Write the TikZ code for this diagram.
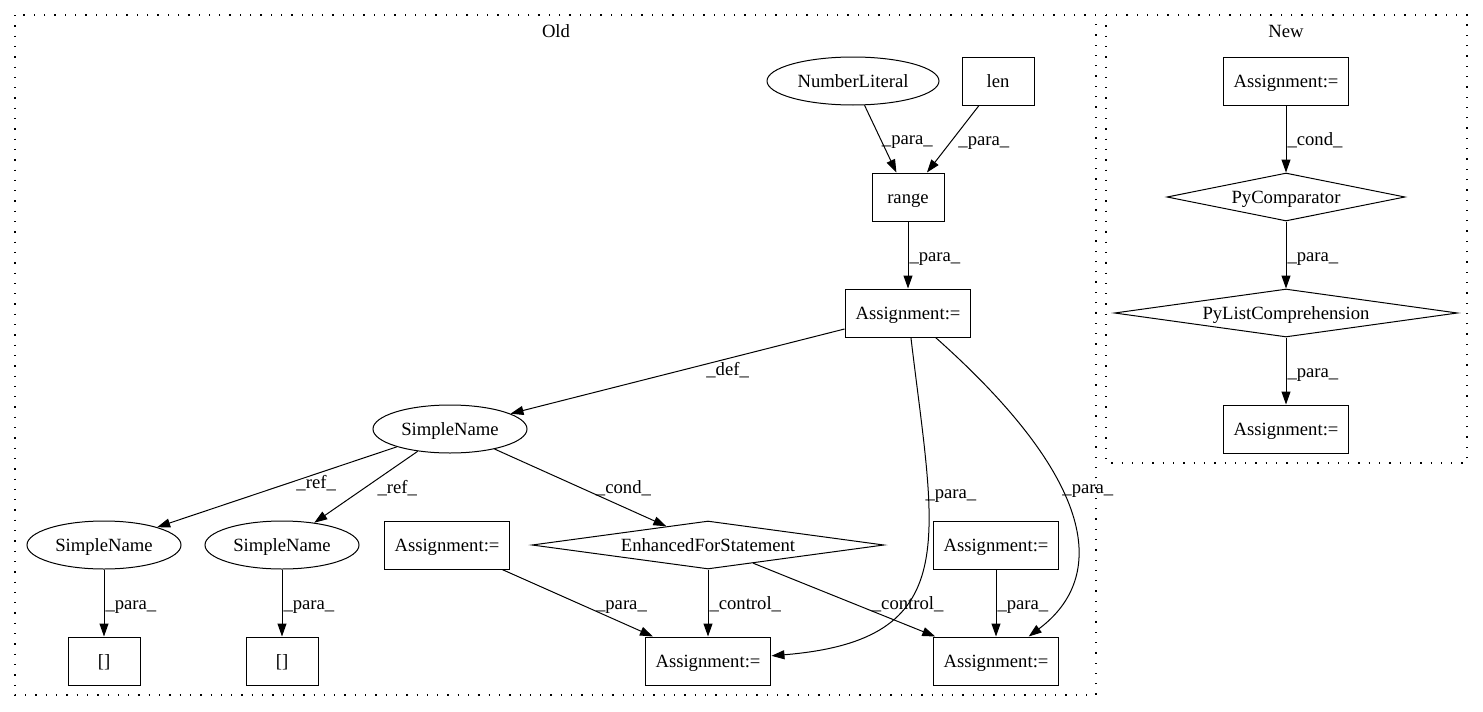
\documentclass[tikz,border=0pt]{standalone}
\usepackage{fontspec}
\setmainfont{Liberation Serif}
\usetikzlibrary{shapes.geometric,arrows.meta}
\tikzset {>={Triangle[length=13pt,width=9pt]}}

\begin{document}
\begin{tikzpicture}[x=1pt,y=-1pt,line width=1pt,
  every node/.style={font=\fontsize{18.67}{22}\selectfont,text height=13pt,text depth=1pt},
  box/.style={draw,rectangle,minimum width=72pt,minimum height=48pt,inner xsep=10.5pt},
  oval/.style={draw,ellipse,minimum height=48pt,inner sep=0pt},
  dia/.style={draw,diamond,aspect=7,minimum height=48pt,inner sep=0pt},
  lbl/.style={inner sep=1pt},
  clus/.style={line width=1.3pt,dash pattern=on 1.3pt off 9pt}]
\useasboundingbox (0,0) rectangle (1483,712);
\draw[clus] (15,15) rectangle (1096,695);
\node (oldlbl) at (556,31) {Old};
\draw[clus] (1106,15) rectangle (1467,463);
\node (newlbl) at (1286,31) {New};

\node[oval,minimum width=172pt] (numlit) at (853,81) {NumberLiteral};
\node[box] (len) at (998,81) {len};
\node[box] (range) at (908,197) {range};
\node[box] (asg) at (908,313) {Assignment:=};
\node[oval,minimum width=154pt] (sname) at (450,429) {SimpleName};
\node[oval,minimum width=154pt] (snameL) at (104,545) {SimpleName};
\node[oval,minimum width=154pt] (snameM) at (282,545) {SimpleName};
\node[box] (asgL) at (447,545) {Assignment:=};
\node[dia,minimum width=352pt] (efor) at (708,545) {EnhancedForStatement};
\node[box] (asgR) at (996,545) {Assignment:=};
\node[box] (idxL) at (104,661) {[]};
\node[box] (idxM) at (282,661) {[]};
\node[box] (asgBL) at (708,661) {Assignment:=};
\node[box] (asgBR) at (996,661) {Assignment:=};

\node[box] (nasg) at (1286,81) {Assignment:=};
\node[dia,minimum width=238pt] (pycmp) at (1286,197) {PyComparator};
\node[dia,minimum width=343pt] (pylc) at (1286,313) {PyListComprehension};
\node[box] (nasg2) at (1286,429) {Assignment:=};

\draw[->] (numlit) -- node[lbl,anchor=west] {\_para\_} (range);
\draw[->] (len) -- node[lbl,anchor=west,xshift=4pt] {\_para\_} (range);
\draw[->] (range) -- node[lbl,anchor=west] {\_para\_} (asg);
\draw[->] (asg) -- node[lbl,pos=.35,anchor=north,yshift=-2pt] {\_def\_} (sname);
\draw[->] (sname) -- node[lbl,pos=.45,anchor=west,xshift=6pt] {\_ref\_} (snameL);
\draw[->] (sname) -- node[lbl,anchor=west,xshift=10pt] {\_ref\_} (snameM);
\draw[->] (sname) -- node[lbl,anchor=west,xshift=14pt] {\_cond\_} (efor);
\draw[->] (snameL) -- node[lbl,anchor=west] {\_para\_} (idxL);
\draw[->] (snameM) -- node[lbl,anchor=west] {\_para\_} (idxM);
\draw[->] (asgL) -- node[lbl,anchor=west,xshift=17pt] {\_para\_} (asgBL);
\draw[->] (efor) -- node[lbl,anchor=west] {\_control\_} (asgBL);
\draw[->] (efor) -- node[lbl,pos=.55,anchor=west,xshift=17pt] {\_control\_} (asgBR);
\draw[->] (asgR) -- node[lbl,anchor=west] {\_para\_} (asgBR);
\draw[->] (asg) .. controls (935,540) and (965,640) .. node[lbl,pos=.3,anchor=west,xshift=-4pt] {\_para\_} (asgBL);
\draw[->] (asg) .. controls (1097,481) and (1108,577) .. node[lbl,pos=.4,anchor=west] {\_para\_} (asgBR);

\draw[->] (nasg) -- node[lbl,anchor=west] {\_cond\_} (pycmp);
\draw[->] (pycmp) -- node[lbl,anchor=west] {\_para\_} (pylc);
\draw[->] (pylc) -- node[lbl,anchor=west] {\_para\_} (nasg2);
\end{tikzpicture}
\end{document}
